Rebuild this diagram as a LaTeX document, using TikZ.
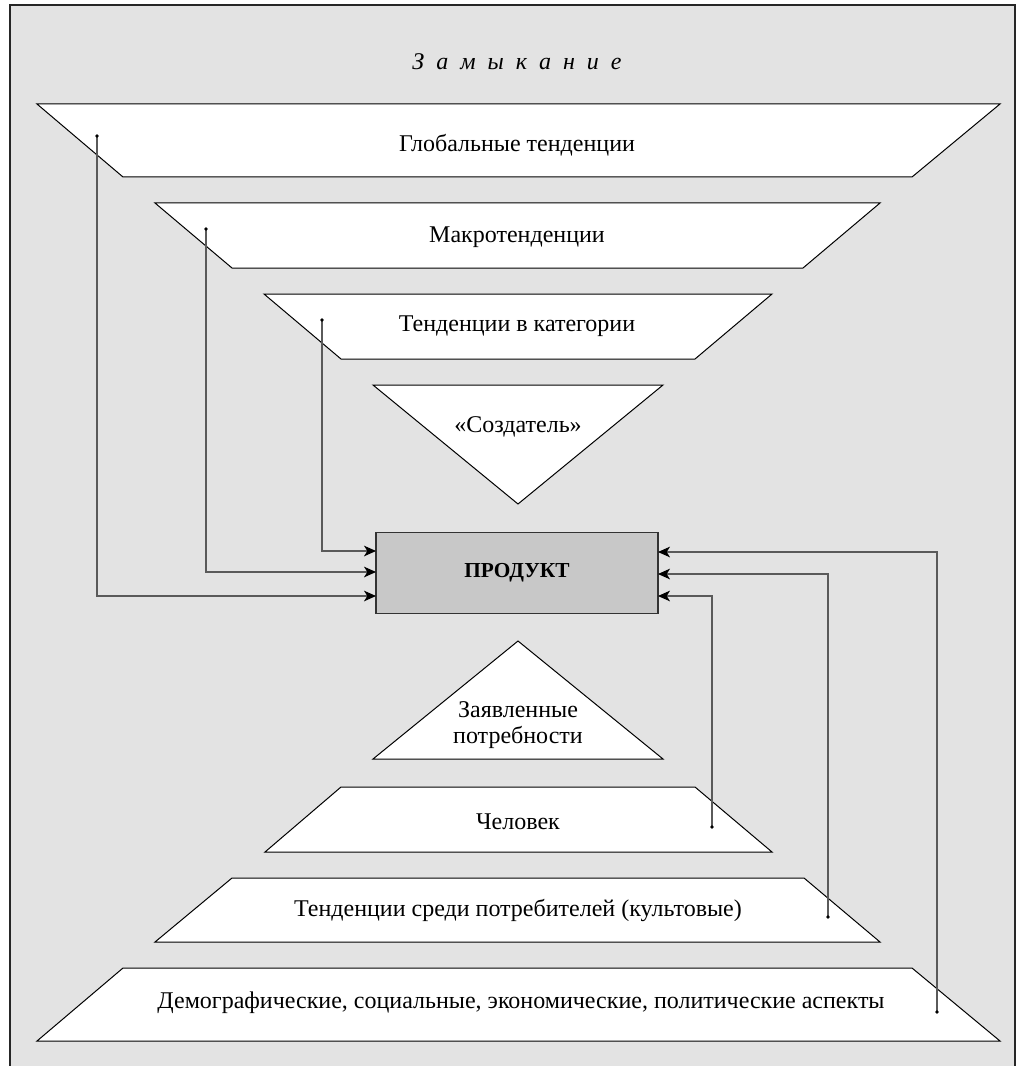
\documentclass[tikz,border=0pt]{standalone}
\usepackage{fontspec}
\setmainfont{Liberation Serif}
\usetikzlibrary{arrows.meta}
\definecolor{bg}{RGB}{227,227,227}
\definecolor{prodfill}{RGB}{200,200,200}
\definecolor{conncol}{RGB}{90,90,90}
\tikzset{
  shapeline/.style={draw=black, fill=white, line width=0.75pt, line join=miter},
  lbl/.style={font=\fontsize{18}{19.5}\selectfont, inner sep=0pt, align=center},
  connline/.style={draw=conncol, line width=0.8pt, -{Stealth[length=9pt,width=8pt,inset=2.5pt,color=black]}},
  prodbox/.style={draw=black!80, fill=prodfill, line width=0.8pt, minimum width=282*0.75pt, minimum height=81*0.75pt, inner sep=0pt, font=\fontsize{16}{18}\selectfont\bfseries}
}
\newcommand{\lsp}{\hspace{0.5em}}
\begin{document}
\begin{tikzpicture}[x=0.75pt,y=-0.75pt]
\useasboundingbox (0,0) rectangle (1020,1066);
\fill[bg] (10,5) rectangle (1015,1066);
\draw[line width=1pt, black!85] (10,1066) -- (10,5) -- (1015,5) -- (1015,1066);

% title
\node[lbl, font=\fontsize{18}{20}\selectfont\itshape] (title) at (517,62) {З\lsp а\lsp м\lsp ы\lsp к\lsp а\lsp н\lsp и\lsp е};

% top trapezoids
\draw[shapeline] (37,104) -- (1000,104) -- (912,177) -- (123,177) -- cycle;
\node[lbl] (glob) at (517,145) {Глобальные тенденции};
\draw[shapeline] (155,203) -- (880,203) -- (803,268) -- (232,268) -- cycle;
\node[lbl] (macro) at (517,237) {Макротенденции};
\draw[shapeline] (264,294) -- (772,294) -- (695,359) -- (341,359) -- cycle;
\node[lbl] (cat) at (517,326) {Тенденции в категории};
\draw[shapeline] (373,385) -- (663,385) -- (518,504) -- cycle;
\node[lbl] (creator) at (518,427) {«Создатель»};

% product
\node[prodbox] (prod) at (517,573) {ПРОДУКТ};

% bottom shapes
\draw[shapeline] (518,641) -- (663,759) -- (373,759) -- cycle;
\node[lbl] (needs) at (518,725) {Заявленные\\потребности};
\draw[shapeline] (341,787) -- (695,787) -- (772,852) -- (265,852) -- cycle;
\node[lbl] (human) at (518,822) {Человек};
\draw[shapeline] (232,878) -- (804,878) -- (880,942) -- (155,942) -- cycle;
\node[lbl] (cons) at (518,910) {Тенденции среди потребителей (культовые)};
\draw[shapeline] (123,968) -- (912,968) -- (1000,1041) -- (37,1041) -- cycle;
\node[lbl] (demo) at (521,1003) {Демографические, социальные, экономические, политические аспекты};

% connector start points
\coordinate (s1) at (97,136);
\coordinate (s2) at (206,229);
\coordinate (s3) at (322,320);
\coordinate (r1) at (937,1012);
\coordinate (r2) at (828,917);
\coordinate (r3) at (712,827);
% arrow ends on product
\coordinate (pl1) at (376,596);
\coordinate (pl2) at (376,572);
\coordinate (pl3) at (376,551);
\coordinate (pr1) at (658,552);
\coordinate (pr2) at (658,574);
\coordinate (pr3) at (658,596);

\foreach \a/\b in {s1/pl1,s2/pl2,s3/pl3,r1/pr1,r2/pr2,r3/pr3}{
  \draw[connline] (\a) |- (\b);
  \fill (\a) circle (1.8);
}
\end{tikzpicture}
\end{document}
